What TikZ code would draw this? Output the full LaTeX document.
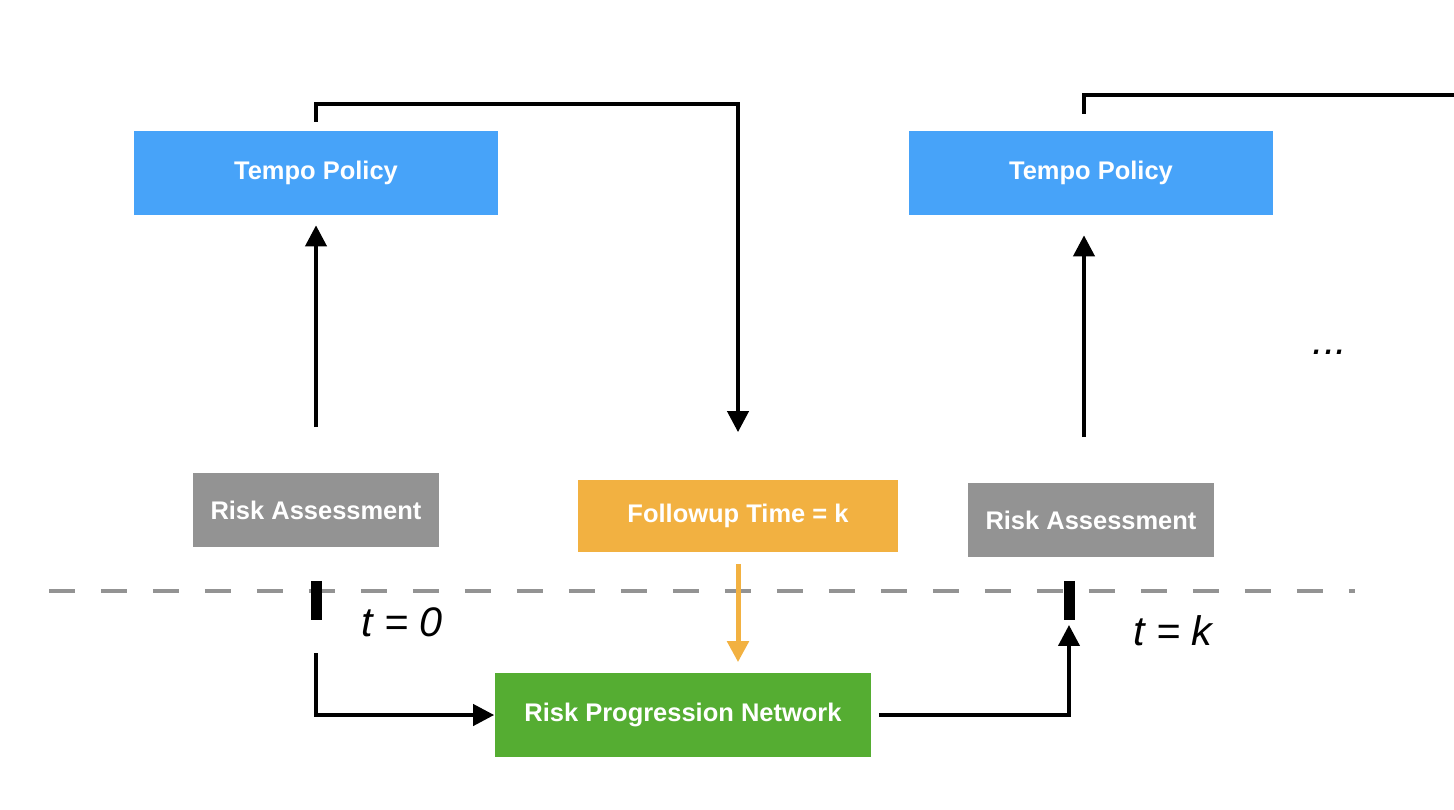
\documentclass[tikz,border=0pt]{standalone}
\usepackage{fontspec}
\setmainfont{Liberation Sans}
\usepackage{tikz}
\usetikzlibrary{calc,positioning,arrows.meta}
\definecolor{policyblue}{HTML}{47A3F9}
\definecolor{assessgray}{HTML}{939393}
\definecolor{followorange}{HTML}{F2B141}
\definecolor{progressgreen}{HTML}{55AD32}
\tikzset{
	>={Triangle[width=0.42cm,length=0.42cm]},
	stage/.style={
		rectangle,
		text=white,
		font=\fontsize{14.5}{17}\selectfont\bfseries,
		inner sep=0pt,
		text centered},
	policy/.style={stage, fill=policyblue, minimum width=7.28cm, minimum height=1.68cm},
	assess/.style={stage, fill=assessgray, minimum width=4.93cm, minimum height=1.5cm},
	followup/.style={stage, fill=followorange, minimum width=6.4cm, minimum height=1.46cm},
	progress/.style={stage, fill=progressgreen, minimum width=7.54cm, minimum height=1.7cm},
	line/.style={draw, line width=0.08cm, ->},
	plain/.style={draw, line width=0.08cm},
	feed/.style={draw=followorange, line width=0.1cm, ->},
	timeline/.style={draw=assessgray, line width=0.066cm, dash pattern=on 0.52cm off 0.52cm},
	tick/.style={draw, line width=0.22cm},
	timelabel/.style={font=\fontsize{23.5}{27}\selectfont\itshape},
}
\begin{document}
\begin{tikzpicture}
			[x=0.02cm, y=-0.02cm]
			\useasboundingbox (0,0) rectangle (1454,810);
			\node[policy]   (tp1) at (316,173)  {Tempo Policy};
			\node[policy]   (tp2) at (1091,173) {Tempo Policy};
			\node[assess]   (ra1) at (316,510)  {Risk Assessment};
			\node[followup] (fu)  at (738,516)  {Followup Time = k};
			\node[assess]   (ra2) at (1091,520) {Risk Assessment};
			\node[progress] (rpn) at (683,715)  {Risk Progression Network};
			\coordinate (t0)  at (316,591);
			\coordinate (tk)  at (1069,591);
			\coordinate (out) at (1454,95);
			
			% time axis
			\draw[timeline] (49,591) -- (1355,591);
			\draw[tick] ($(t0)+(0,-10)$) -- ($(t0)+(0,29)$);
			\draw[tick] ($(tk)+(0,-10)$) -- ($(tk)+(0,29)$);
			\node[timelabel] (l0) at (402,622)  {t = 0};
			\node[timelabel] (lk) at (1173,631) {t = k};
			\node[timelabel] (dots) at (1330,352) {...};
			
			\draw[line, shorten <=0.9cm, shorten >=0.2cm] (ra1.north) -- (tp1.south);
			\draw[line, shorten <=0.18cm, shorten >=0.94cm] (tp1.north) -- ++(0,-27) -| (fu.north);
			\draw[feed, shorten <=0.22cm, shorten >=0.2cm] (fu.south) -- (fu.south |- rpn.north);
			\draw[line] ($(t0)+(0,62)$) |- (rpn.west);
			\draw[line, shorten <=0.14cm] (rpn.east) -| ($(tk)+(0,34)$);
			\draw[line, shorten <=0.9cm, shorten >=0.4cm] ($(ra2.north)+(-7,0)$) -- ($(tp2.south)+(-7,0)$);
			\draw[plain, shorten <=0.34cm] ($(tp2.north)+(-7,0)$) |- (out);
			
\end{tikzpicture}
\end{document}
